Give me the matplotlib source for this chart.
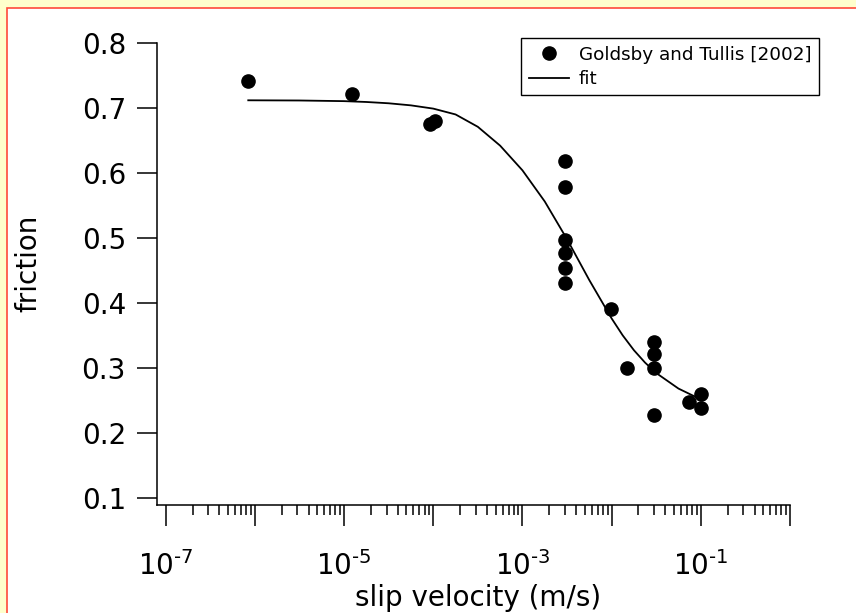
import numpy as np
import matplotlib
matplotlib.use("Agg")
import matplotlib.pyplot as plt
from matplotlib.patches import Rectangle
from matplotlib.ticker import FixedLocator, FixedFormatter, NullFormatter

# measured data (Goldsby and Tullis [2002])
velocity = [8.4e-7, 1.23e-5, 9.2e-5, 1.04e-4,
            3.0e-3, 3.0e-3, 3.0e-3, 3.0e-3, 3.0e-3, 3.0e-3,
            9.8e-3, 1.5e-2, 3.0e-2, 3.0e-2, 3.0e-2, 3.0e-2, 7.4e-2, 1.0e-1, 1.0e-1]
friction = [0.741, 0.721, 0.676, 0.680,
            0.618, 0.578, 0.497, 0.476, 0.454, 0.430,
            0.390, 0.300, 0.339, 0.321, 0.300, 0.228, 0.248, 0.259, 0.238]

# fit curve
fit_v = [8.43e-7, 3.16e-6, 1.0e-5, 1.78e-5, 3.16e-5, 5.62e-5, 1.0e-4,
         1.78e-4, 3.16e-4, 5.62e-4, 1.0e-3, 1.78e-3, 3.16e-3, 5.62e-3,
         1.0e-2, 1.33e-2, 1.78e-2, 2.37e-2, 3.16e-2, 5.62e-2, 1.03e-1]
fit_mu = [0.7118, 0.7115, 0.7105, 0.7092, 0.7072, 0.7040, 0.6990,
          0.6900, 0.6710, 0.6420, 0.6040, 0.5560, 0.4980, 0.4350,
          0.3760, 0.3500, 0.3270, 0.3080, 0.2920, 0.2680, 0.2505]

x_ticks = [1e-7, 1e-6, 1e-5, 1e-4, 1e-3, 1e-2, 1e-1, 1e0]
x_ticklabels = [r'10$^{\text{-}7}$', '', r'10$^{\text{-}5}$', '', r'10$^{\text{-}3}$', '',
                r'10$^{\text{-}1}$', '']
y_ticks = [0.1, 0.2, 0.3, 0.4, 0.5, 0.6, 0.7, 0.8]
y_ticklabels = ['0.1', '0.2', '0.3', '0.4', '0.5', '0.6', '0.7', '0.8']

W, H = 856, 613
fig = plt.figure(figsize=(W / 100, H / 100), dpi=100)
fig.patch.set_facecolor('#ffffcc')
# white panel with red border on left/top
fig.add_artist(Rectangle((7.5 / W, -0.2), 1.3, 1.2 - 7.5 / H, transform=fig.transFigure,
                         facecolor='white', edgecolor='#ff4a3a', linewidth=1.2, zorder=-10))

ax = fig.add_axes([157 / W, (H - 505) / H, (790 - 157) / W, (505 - 43) / H])
ax.patch.set_alpha(0)

ax.plot(velocity, friction, linestyle='none', marker='o', markersize=9.5,
        color='black', label='Goldsby and Tullis [2002]')
ax.plot(fit_v, fit_mu, color='black', linewidth=1.3, label='fit')

ax.set_xscale('log')
ax.set_xlim(10 ** -7.0975, 1)
ax.set_ylim(0.0888, 0.8)

ax.spines['top'].set_visible(False)
ax.spines['right'].set_visible(False)
for s in ['left', 'bottom']:
    ax.spines[s].set_linewidth(1.1)

minor = [m * 10.0 ** e for e in range(-7, 0) for m in range(2, 10)]
ax.xaxis.set_major_locator(FixedLocator(x_ticks))
ax.xaxis.set_major_formatter(FixedFormatter(x_ticklabels))
ax.xaxis.set_minor_locator(FixedLocator(minor))
ax.xaxis.set_minor_formatter(NullFormatter())
ax.yaxis.set_major_locator(FixedLocator(y_ticks))
ax.yaxis.set_major_formatter(FixedFormatter(y_ticklabels))

ax.tick_params(axis='x', which='major', direction='out', length=15, width=1.1, pad=18, labelsize=20)
ax.tick_params(axis='x', which='minor', direction='out', length=7.2, width=1.1)
ax.tick_params(axis='y', which='major', direction='out', length=14.4, width=1.1, pad=8, labelsize=20)

ax.set_xlabel('slip velocity (m/s)', fontsize=20)
ax.set_ylabel('friction', fontsize=20)
ax.xaxis.set_label_coords(478 / W, 1 - 598 / H, transform=fig.transFigure)
ax.yaxis.set_label_coords(28 / W, 1 - 263 / H, transform=fig.transFigure)
ax.xaxis.label.set_verticalalignment('center')
ax.yaxis.label.set_verticalalignment('center')

leg = ax.legend(loc='upper right', bbox_to_anchor=(819 / W, 1 - 38.3 / H),
                bbox_transform=fig.transFigure, borderaxespad=0, fontsize=13.2,
                numpoints=1, fancybox=False, framealpha=1, edgecolor='black',
                borderpad=0.4, labelspacing=0.35, handlelength=2.2, handletextpad=0.55)
leg.get_frame().set_linewidth(1.0)

fig.savefig('out.png', dpi=100, facecolor=fig.get_facecolor())
